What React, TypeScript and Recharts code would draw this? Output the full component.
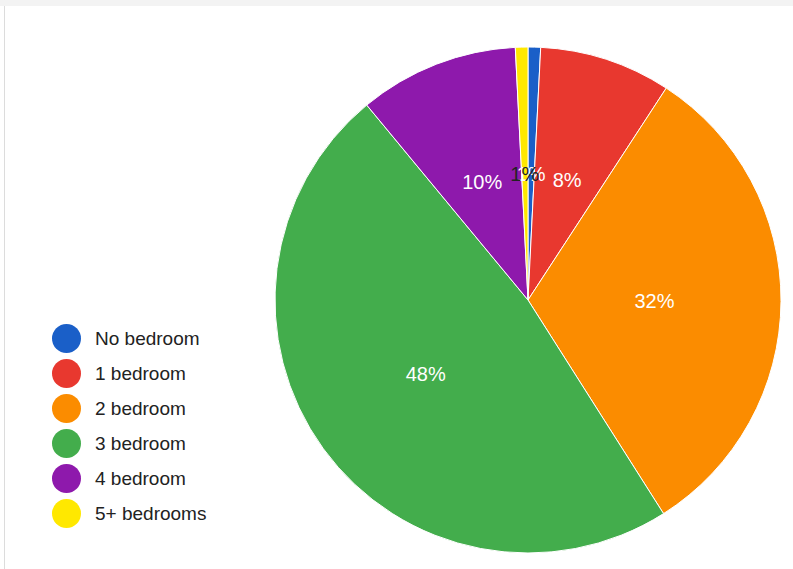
import { PieChart, Pie, Cell, Legend } from 'recharts';

const categories = ['No bedroom', '1 bedroom', '2 bedroom', '3 bedroom', '4 bedroom', '5+ bedrooms'];
const shares = [0.8, 8.4, 31.8, 48.0, 10.2, 0.8];
const colors = ['#1a5fc8', '#e8382f', '#fb8c00', '#43ad4c', '#8e19ac', '#ffe800'];
const labelColors = ['#ffffff', '#ffffff', '#ffffff', '#ffffff', '#ffffff', '#222222'];

const data = categories.map((name, i) => ({ name, value: shares[i] }));

const RAD = Math.PI / 180;

function renderLabel(props: any) {
  const { cx, cy, midAngle, outerRadius, percent, index } = props;
  const r = outerRadius * 0.5;
  const x = cx + r * Math.cos(-midAngle * RAD);
  const y = cy + r * Math.sin(-midAngle * RAD);
  return (
    <text
      x={x}
      y={y}
      fill={labelColors[index]}
      textAnchor="middle"
      dominantBaseline="central"
      fontSize={20}
      fontFamily="Liberation Sans, Arial, sans-serif"
    >
      {`${Math.round(percent * 100)}%`}
    </text>
  );
}

function LegendList() {
  return (
    <div style={{ fontFamily: 'Liberation Sans, Arial, sans-serif' }}>
      {categories.map((c, i) => (
        <div key={c} style={{ display: 'flex', alignItems: 'center', height: 35 }}>
          <span
            style={{
              width: 29,
              height: 29,
              borderRadius: '50%',
              background: colors[i],
              display: 'inline-block',
              marginRight: 14,
            }}
          />
          <span style={{ fontSize: 19, color: '#222' }}>{c}</span>
        </div>
      ))}
    </div>
  );
}

export default function App() {
  return (
    <div style={{ position: 'absolute', left: 0, top: 0, width: 793, height: 569, background: '#fff' }}>
      <div style={{ position: 'absolute', left: 0, top: 0, width: 793, height: 6, background: '#f3f3f3' }} />
      <div style={{ position: 'absolute', left: 4, top: 6, width: 1, height: 563, background: '#dcdcdc' }} />
      <PieChart width={793} height={569} margin={{ top: 0, right: 0, bottom: 0, left: 0 }}>
        <Pie
          data={data}
          dataKey="value"
          nameKey="name"
          cx={528}
          cy={300}
          outerRadius={253}
          startAngle={90}
          endAngle={-270}
          stroke="#ffffff"
          strokeWidth={1}
          label={renderLabel}
          labelLine={false}
          isAnimationActive={false}
        >
          {data.map((d, i) => (
            <Cell key={d.name} fill={colors[i]} />
          ))}
        </Pie>
        <Legend
          layout="vertical"
          content={() => <LegendList />}
          wrapperStyle={{ position: 'absolute', left: 52, top: 321, width: 220 }}
        />
      </PieChart>
    </div>
  );
}
